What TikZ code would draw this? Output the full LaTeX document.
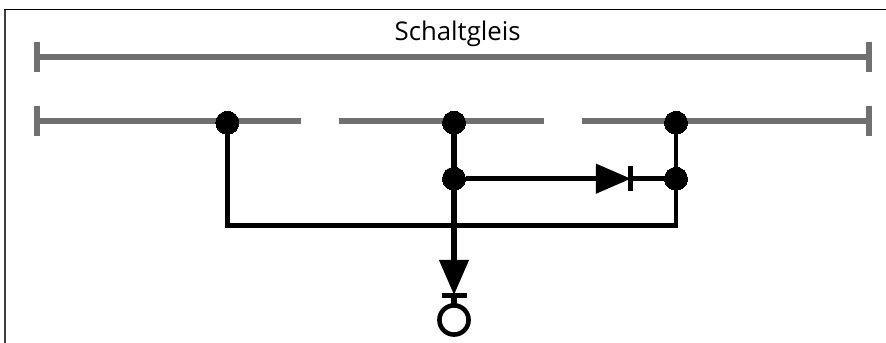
\documentclass[tikz,border=0pt]{standalone}
\usepackage{fontspec}
\setmainfont{Open Sans}
\usepackage{tikz-network}
\usetikzlibrary{arrows.meta}
\definecolor{railgray}{HTML}{707070}

\begin{document}
\begin{tikzpicture}

\tikzset{
  railline/.style={line width=5.1pt},
  wireline/.style={line width=4.6pt},
  thinwire/.style={line width=3.9pt, line cap=rect},
  framing/.style={line width=1.4pt, line cap=rect},
  diodetip/.style={-{Triangle[length=30pt,width=24.5pt]}, line width=4.6pt}
}
\SetVertexStyle[LineWidth=0, FillColor=black, LineColor=black, InnerSep=0, OuterSep=0, MinSize=0]
\SetEdgeStyle[Color=black]
\SetTextStyle[TextFont=\fontsize{22}{26}\selectfont]

\useasboundingbox (0,0) rectangle (26.58,10.29);

\Vertex[Pseudo,x=0.15,y=0]{F_1}
\Vertex[Pseudo,x=0.15,y=10.005]{F_2}
\Vertex[Pseudo,x=26.58,y=10.005]{F_3}
\Edge[color=black!75,style=framing](F_1)(F_2)
\Edge[style=framing](F_2)(F_3)

\Vertex[Pseudo,x=1.11,y=8.589]{A_1}
\Vertex[Pseudo,x=26.07,y=8.589]{A_2}
\Vertex[Pseudo,x=1.11,y=9.03]{A_3}
\Vertex[Pseudo,x=1.11,y=8.13]{A_4}
\Vertex[Pseudo,x=26.07,y=9.03]{A_5}
\Vertex[Pseudo,x=26.07,y=8.13]{A_6}
\Edge[color=railgray,style=railline](A_1)(A_2)
\Edge[color=railgray,style=railline](A_3)(A_4)
\Edge[color=railgray,style=railline](A_5)(A_6)

\Vertex[Pseudo,x=1.11,y=6.66]{B_1}
\Vertex[Pseudo,x=9.03,y=6.66]{B_2}
\Vertex[Pseudo,x=10.17,y=6.66]{B_3}
\Vertex[Pseudo,x=16.32,y=6.66]{B_4}
\Vertex[Pseudo,x=17.445,y=6.66]{B_5}
\Vertex[Pseudo,x=26.07,y=6.66]{B_6}
\Vertex[Pseudo,x=1.11,y=7.11]{B_7}
\Vertex[Pseudo,x=1.11,y=6.21]{B_8}
\Vertex[Pseudo,x=26.07,y=7.11]{B_9}
\Vertex[Pseudo,x=26.07,y=6.21]{B_10}
\Edge[color=railgray,style=railline](B_1)(B_2)
\Edge[color=railgray,style=railline](B_3)(B_4)
\Edge[color=railgray,style=railline](B_5)(B_6)
\Edge[color=railgray,style=railline](B_7)(B_8)
\Edge[color=railgray,style=railline](B_9)(B_10)

\Vertex[x=6.82,y=6.609,size=0.69]{T_1}
\Vertex[x=13.62,y=6.609,size=0.69]{T_2}
\Vertex[x=20.28,y=6.609,size=0.69]{T_3}
\Vertex[x=13.62,y=4.929,size=0.69]{J_1}
\Vertex[x=20.28,y=4.929,size=0.69]{J_2}
\Vertex[Pseudo,x=6.82,y=3.519]{C_1}
\Vertex[Pseudo,x=20.28,y=3.519]{C_2}
\Vertex[Pseudo,x=18.93,y=4.929]{D_1}
\Vertex[Pseudo,x=18.91,y=5.31]{D_2}
\Vertex[Pseudo,x=18.91,y=4.56]{D_3}
\Vertex[Pseudo,x=13.62,y=1.44]{E_1}
\Vertex[Pseudo,x=13.62,y=1.431]{E_2}
\Vertex[Pseudo,x=13.245,y=1.431]{E_3}
\Vertex[Pseudo,x=13.995,y=1.431]{E_4}
\Vertex[x=13.62,y=0.69,size=0.875,color=white,style={draw=black,line width=3.9pt}]{L_1}

\Edge[style=thinwire](T_1)(C_1)
\Edge[style=thinwire](C_1)(C_2)
\Edge[style=thinwire](C_2)(J_2)
\Edge[style=thinwire](J_2)(T_3)
\Edge[style=wireline](T_2)(J_1)
\Edge[Direct,style=diodetip](J_1)(D_1)
\Edge[style=wireline](D_1)(J_2)
\Edge[style=wireline](D_2)(D_3)
\Edge[Direct,style=diodetip](J_1)(E_1)
\Edge[style=wireline](E_3)(E_4)
\Edge[style=wireline](E_2)(L_1)

\Text[x=13.73,y=9.28]{Schaltgleis}

\end{tikzpicture}
\end{document}
